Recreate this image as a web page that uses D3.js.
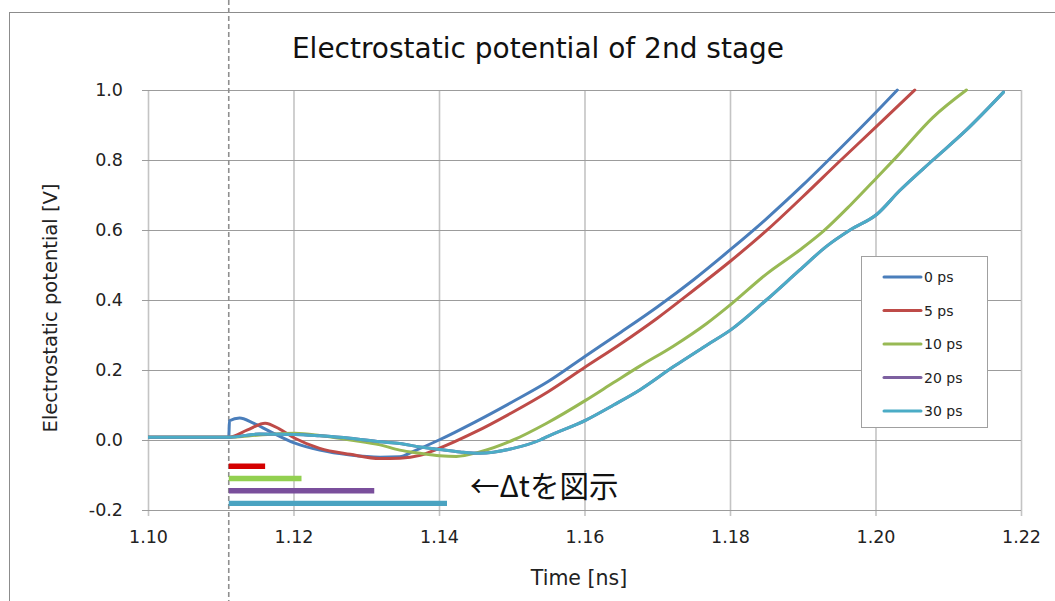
<!DOCTYPE html>
<html>
<head>
<meta charset="utf-8">
<script src="https://cdn.jsdelivr.net/npm/d3@7"></script>
<style>
  body { margin: 0; background: #fff; }
  svg { display: block; }
</style>
</head>
<body>
<svg id="chart" width="1055" height="601"></svg>
<script>
// Axis ticks
const xTicks = [1.10, 1.12, 1.14, 1.16, 1.18, 1.20, 1.22];
const yTicks = [-0.2, 0.0, 0.2, 0.4, 0.6, 0.8, 1.0];

// Series names and colours
const seriesNames = ["0 ps", "5 ps", "10 ps", "20 ps", "30 ps"];
const seriesColors = ["#4a7ebb", "#be4b48", "#98b954", "#7d60a0", "#4bacc6"];

// 0 ps trace: time [ns], potential [V]
const t0ps = [1.1000, 1.1111, 1.1112, 1.1126, 1.1144, 1.1168, 1.1202, 1.1236, 1.1278, 1.1319, 1.1346, 1.1364,
  1.1400, 1.1450, 1.1500, 1.1550, 1.1600, 1.1650, 1.1700, 1.1750, 1.1800, 1.1850, 1.1900,
  1.1950, 1.2000, 1.2030];
const v0ps = [0.008, 0.008, 0.055, 0.063, 0.049, 0.024, -0.009, -0.029, -0.043, -0.049, -0.048, -0.033,
  0.000, 0.052, 0.108, 0.167, 0.238, 0.308, 0.380, 0.458, 0.543, 0.632, 0.728,
  0.830, 0.935, 1.000];

// 5 ps trace
const t5ps = [1.1000, 1.1111, 1.1136, 1.1161, 1.1181, 1.1202, 1.1236, 1.1278, 1.1319, 1.1346, 1.1374,
  1.1400, 1.1450, 1.1500, 1.1550, 1.1600, 1.1650, 1.1700, 1.1750, 1.1800, 1.1850,
  1.1900, 1.1950, 1.2000, 1.2054];
const v5ps = [0.008, 0.008, 0.028, 0.048, 0.031, 0.005, -0.024, -0.041, -0.053, -0.052, -0.044,
  -0.024, 0.023, 0.078, 0.138, 0.207, 0.275, 0.348, 0.428, 0.510, 0.598,
  0.695, 0.795, 0.893, 1.000];

// 10 ps trace
const t10ps = [1.1000, 1.1111, 1.1153, 1.1202, 1.1236, 1.1278, 1.1319, 1.1346, 1.1374, 1.1401, 1.1424,
  1.1456, 1.1502, 1.1548, 1.1602, 1.1640, 1.1676, 1.1722, 1.1768, 1.1802, 1.1850, 1.1896,
  1.1928, 1.1965, 1.2002, 1.2029, 1.2079, 1.2125];
const v10ps = [0.008, 0.008, 0.014, 0.019, 0.013, 0.000, -0.014, -0.029, -0.038, -0.045, -0.047,
  -0.034, 0.000, 0.048, 0.114, 0.164, 0.211, 0.268, 0.333, 0.389, 0.474, 0.543,
  0.596, 0.670, 0.750, 0.809, 0.922, 1.000];

// 30 ps trace
const t30ps = [1.1000, 1.1111, 1.1153, 1.1202, 1.1236, 1.1278, 1.1319, 1.1346, 1.1374, 1.1401, 1.1429,
  1.1456, 1.1502, 1.1539, 1.1548, 1.1602, 1.1640, 1.1676, 1.1722, 1.1768, 1.1802, 1.1850,
  1.1896, 1.1933, 1.1965, 1.2002, 1.2033, 1.2079, 1.2125, 1.2176];
const v30ps = [0.008, 0.008, 0.017, 0.016, 0.012, 0.005, -0.005, -0.010, -0.020, -0.027, -0.034,
  -0.038, -0.024, 0.000, 0.009, 0.057, 0.100, 0.143, 0.209, 0.271, 0.316, 0.400,
  0.486, 0.554, 0.600, 0.645, 0.712, 0.800, 0.886, 0.994];

// 20 ps trace coincides with the 30 ps trace and lies beneath it
const t20ps = t30ps;
const v20ps = v30ps;

// Delay markers (Δt) drawn below the traces
const markerStart = 1.1111;          // reference time [ns]
const markerDelaysPs = [5, 10, 20, 30];
const markerLevels = [-0.075, -0.110, -0.145, -0.181];
const markerColors = ["#d40000", "#92d050", "#7a4f9c", "#4aa3c1"];

const seriesTimes = [t0ps, t5ps, t10ps, t20ps, t30ps];
const seriesValues = [v0ps, v5ps, v10ps, v20ps, v30ps];

const svg = d3.select("#chart");
const W = 1055, H = 601;
const plot = { left: 148, right: 1021, top: 90, bottom: 510 };

const x = d3.scaleLinear().domain([1.10, 1.22]).range([plot.left, plot.right]);
const y = d3.scaleLinear().domain([-0.2, 1.0]).range([plot.bottom, plot.top]);

svg.append("rect").attr("width", W).attr("height", H).attr("fill", "#fff");

// Outer chart frame
svg.append("rect")
  .attr("x", 9.5).attr("y", 12.5)
  .attr("width", W).attr("height", H)
  .attr("fill", "none").attr("stroke", "#8c8c8c").attr("stroke-width", 1);

// Vertical gridlines (with downward ticks)
const gx = svg.append("g")
  .attr("transform", `translate(0,${plot.bottom})`)
  .call(d3.axisBottom(x).tickValues(xTicks).tickFormat("")
    .tickSizeInner(-(plot.bottom - plot.top)).tickSizeOuter(0));
gx.select(".domain").remove();
gx.selectAll(".tick line")
  .attr("y2", -(plot.bottom - plot.top)).attr("y1", 6)
  .attr("stroke", "#c4c4c4").attr("stroke-width", 1.6);

// Horizontal gridlines (with leftward ticks)
const gy = svg.append("g")
  .attr("transform", `translate(${plot.left},0)`)
  .call(d3.axisLeft(y).tickValues(yTicks).tickFormat("")
    .tickSizeInner(-(plot.right - plot.left)).tickSizeOuter(0));
gy.select(".domain").remove();
gy.selectAll(".tick line")
  .attr("x1", -6).attr("x2", plot.right - plot.left)
  .attr("stroke", "#9c9c9c").attr("stroke-width", 1.1);

// Tick labels
const axX = svg.append("g")
  .attr("transform", `translate(0,${plot.bottom})`)
  .call(d3.axisBottom(x).tickValues(xTicks).tickFormat(d => d.toFixed(2))
    .tickSize(6).tickPadding(15));
axX.select(".domain").remove();
axX.selectAll(".tick line").remove();
axX.selectAll("text")
  .attr("font-family", "DejaVu Sans").attr("font-size", 17.5).attr("fill", "#222");

const axY = svg.append("g")
  .attr("transform", `translate(${plot.left},0)`)
  .call(d3.axisLeft(y).tickValues(yTicks).tickFormat(d => d.toFixed(1))
    .tickSize(6).tickPadding(19));
axY.select(".domain").remove();
axY.selectAll(".tick line").remove();
axY.selectAll("text")
  .attr("font-family", "DejaVu Sans").attr("font-size", 17.5).attr("fill", "#222");

// Reference time marker (dashed vertical line across the whole chart)
svg.append("line")
  .attr("x1", x(markerStart)).attr("x2", x(markerStart))
  .attr("y1", 0).attr("y2", H)
  .attr("stroke", "#8f8f8f").attr("stroke-width", 1.6)
  .attr("stroke-dasharray", "5,3");

// Traces
svg.append("clipPath").attr("id", "plot-clip")
  .append("rect")
  .attr("x", plot.left).attr("y", plot.top - 2)
  .attr("width", plot.right - plot.left).attr("height", plot.bottom - plot.top + 4);

const line = d3.line()
  .x(d => x(d[0]))
  .y(d => y(d[1]))
  .curve(d3.curveMonotoneX);

const traces = svg.append("g").attr("clip-path", "url(#plot-clip)");
seriesNames.forEach((name, i) => {
  const pts = seriesTimes[i].map((t, k) => [t, seriesValues[i][k]]);
  traces.append("path")
    .datum(pts)
    .attr("d", line)
    .attr("fill", "none")
    .attr("stroke", seriesColors[i])
    .attr("stroke-width", 3)
    .attr("stroke-linejoin", "round")
    .attr("stroke-linecap", "round");
});

// Δt bars
markerDelaysPs.forEach((dps, i) => {
  svg.append("line")
    .attr("x1", x(markerStart))
    .attr("x2", x(markerStart + dps / 1000))
    .attr("y1", y(markerLevels[i])).attr("y2", y(markerLevels[i]))
    .attr("stroke", markerColors[i]).attr("stroke-width", 5.3);
});

// Annotation
svg.append("text")
  .attr("x", 470).attr("y", 497)
  .attr("font-family", "'Noto Sans CJK JP', sans-serif")
  .attr("font-size", 29.5).attr("fill", "#111")
  .text("←Δtを図示");

// Title
svg.append("text")
  .attr("x", 538).attr("y", 58)
  .attr("text-anchor", "middle")
  .attr("font-family", "DejaVu Sans").attr("font-size", 28).attr("fill", "#111")
  .text("Electrostatic potential of 2nd stage");

// Axis titles
svg.append("text")
  .attr("x", 579).attr("y", 585)
  .attr("text-anchor", "middle")
  .attr("font-family", "DejaVu Sans").attr("font-size", 20.5).attr("fill", "#222")
  .text("Time [ns]");

svg.append("text")
  .attr("transform", "translate(57,308) rotate(-90)")
  .attr("text-anchor", "middle")
  .attr("font-family", "DejaVu Sans").attr("font-size", 19.5).attr("fill", "#222")
  .text("Electrostatic potential [V]");

// Legend
const legend = svg.append("g");
legend.append("rect")
  .attr("x", 861.5).attr("y", 256.5).attr("width", 126).attr("height", 171)
  .attr("fill", "#fff").attr("stroke", "#a0a0a0").attr("stroke-width", 1);
const legendY = d3.scalePoint().domain(seriesNames).range([277, 411]);
seriesNames.forEach((name, i) => {
  const ly = legendY(name);
  legend.append("line")
    .attr("x1", 884).attr("x2", 921).attr("y1", ly).attr("y2", ly)
    .attr("stroke", seriesColors[i]).attr("stroke-width", 3).attr("stroke-linecap", "round");
  legend.append("text")
    .attr("x", 924).attr("y", ly + 5)
    .attr("font-family", "DejaVu Sans").attr("font-size", 14).attr("fill", "#222")
    .text(name);
});
</script>
</body>
</html>
